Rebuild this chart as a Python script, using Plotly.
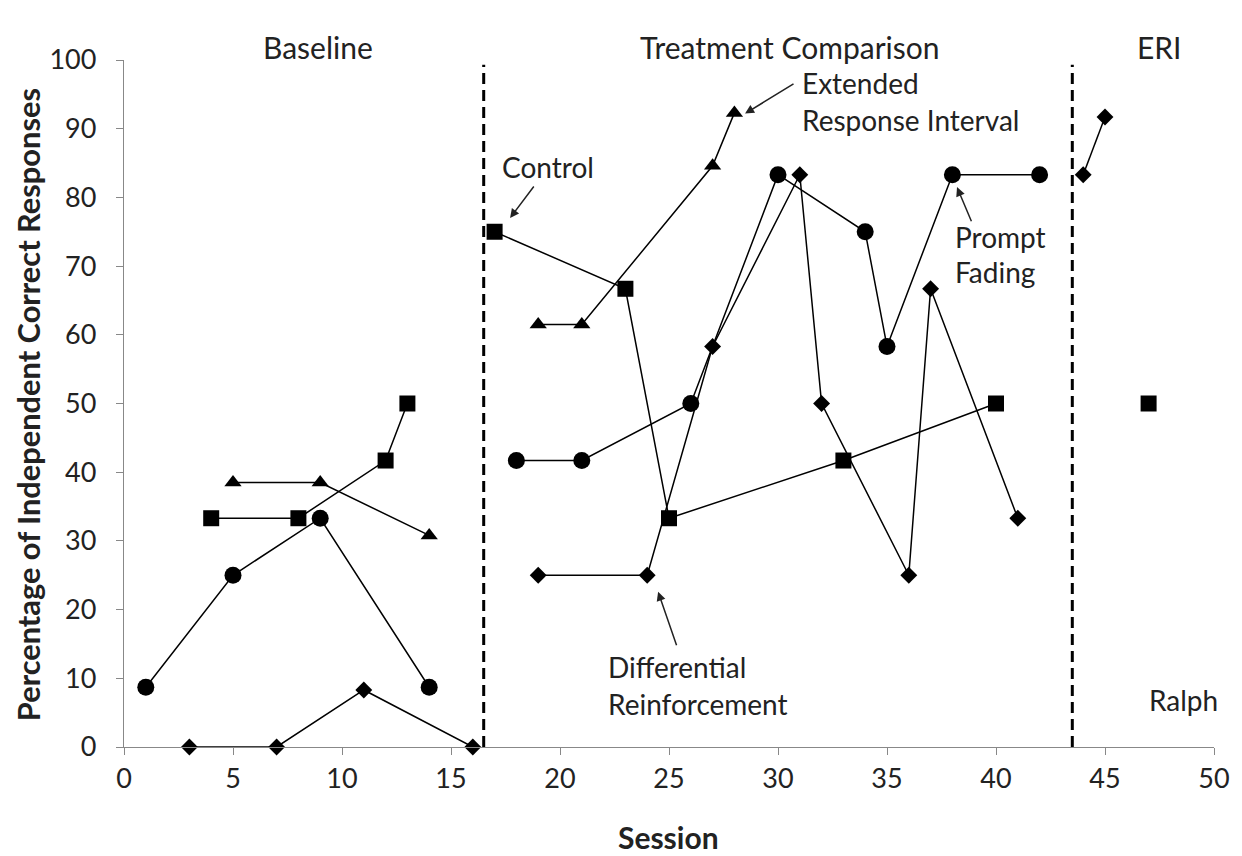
import plotly.graph_objects as go

# ---------------- data ----------------
# Control (squares)
control_x_base = [4, 8, 12, 13]
control_y_base = [33.3, 33.3, 41.7, 50]
control_x_treat = [17, 23, 25, 33, 40]
control_y_treat = [75, 66.7, 33.3, 41.7, 50]
control_x_eri = [47]
control_y_eri = [50]

# Prompt Fading (circles)
prompt_x_base = [1, 5, 9, 14]
prompt_y_base = [8.7, 25, 33.3, 8.7]
prompt_x_treat = [18, 21, 26, 30, 34, 35, 38, 42]
prompt_y_treat = [41.7, 41.7, 50, 83.3, 75, 58.3, 83.3, 83.3]

# Differential Reinforcement (diamonds)
diff_x_base = [3, 7, 11, 16]
diff_y_base = [0, 0, 8.3, 0]
diff_x_treat = [19, 24, 27, 31, 32, 36, 37, 41]
diff_y_treat = [25, 25, 58.3, 83.3, 50, 25, 66.7, 33.3]
diff_x_eri = [44, 45]
diff_y_eri = [83.3, 91.7]

# Extended Response Interval (triangles)
eri_x_base = [5, 9, 14]
eri_y_base = [38.5, 38.5, 30.8]
eri_x_treat = [19, 21, 27, 28]
eri_y_treat = [61.5, 61.5, 84.6, 92.3]

phase_change_x = [16.5, 43.5]
phase_labels = ["Baseline", "Treatment Comparison", "ERI"]
phase_label_x = [8.9, 30.55, 47.5]

x_ticks = [0, 5, 10, 15, 20, 25, 30, 35, 40, 45, 50]
y_ticks = [0, 10, 20, 30, 40, 50, 60, 70, 80, 90, 100]

FONT = "Lato"
BLACK = "#000000"
TXT = "#222222"

fig = go.Figure()

def add_series(xs, ys, symbol, size):
    fig.add_trace(go.Scatter(
        x=xs, y=ys, mode="lines+markers",
        line=dict(color=BLACK, width=1.5),
        marker=dict(symbol=symbol, size=size, color=BLACK),
        cliponaxis=False, showlegend=False, hoverinfo="x+y"))

add_series(control_x_base, control_y_base, "square", 16)
add_series(control_x_treat, control_y_treat, "square", 16)
add_series(control_x_eri, control_y_eri, "square", 16)
add_series(prompt_x_base, prompt_y_base, "circle", 17)
add_series(prompt_x_treat, prompt_y_treat, "circle", 17)
add_series(diff_x_base, diff_y_base, "diamond", 13)
add_series(diff_x_treat, diff_y_treat, "diamond", 13)
add_series(diff_x_eri, diff_y_eri, "diamond", 13)
add_series(eri_x_base, eri_y_base, "triangle-up", 15)
add_series(eri_x_treat, eri_y_treat, "triangle-up", 15)

for xv in phase_change_x:
    fig.add_shape(type="line", x0=xv, x1=xv, y0=0, y1=99.3, xref="x", yref="y",
                  line=dict(color=BLACK, width=3, dash="11px,6px"))

annotations = []
for lab, xv in zip(phase_labels, phase_label_x):
    annotations.append(dict(text=lab, x=xv, y=1.048, xref="x", yref="paper",
                            showarrow=False, font=dict(family=FONT, size=30, color=TXT)))

def txt(t, x, y, anchor="center"):
    annotations.append(dict(text=t, x=x, y=y, xref="x", yref="y", showarrow=False,
                            xanchor=anchor, yanchor="middle",
                            font=dict(family=FONT, size=28, color=TXT)))

def arrow(hx, hy, tx, ty):
    annotations.append(dict(text="", x=hx, y=hy, ax=tx, ay=ty, xref="x", yref="y",
                            axref="x", ayref="y", showarrow=True, arrowhead=2,
                            arrowsize=1.2, arrowwidth=1.5, arrowcolor=TXT))

txt("Control", 19.45, 84.4)
arrow(17.71, 77.0, 18.85, 81.8)
txt("Extended", 31.0, 96.7, "left")
txt("Response Interval", 31.0, 91.2, "left")
arrow(28.49, 92.2, 30.78, 96.65)
txt("Prompt", 38.03, 74.3, "left")
txt("Fading", 38.03, 69.2, "left")
arrow(38.21, 81.5, 38.9, 76.3)
txt("Differential", 22.1, 11.6, "left")
txt("Reinforcement", 22.1, 6.2, "left")
arrow(24.5, 22.6, 25.37, 14.6)
txt("Ralph", 48.58, 6.9)

# axis titles
annotations.append(dict(text="<b>Session</b>", x=0.4998, y=-0.131, xref="paper", yref="paper",
                        showarrow=False, xanchor="center", yanchor="middle",
                        font=dict(family=FONT, size=30, color=TXT)))
annotations.append(dict(text="<b>Percentage of Independent Correct Responses</b>",
                        x=-0.0881, y=0.499, xref="paper", yref="paper", textangle=-90,
                        showarrow=False, xanchor="center", yanchor="middle",
                        font=dict(family=FONT, size=30.8, color=TXT)))

fig.update_layout(
    width=1242, height=856,
    margin=dict(l=124, r=28, t=60, b=109),
    paper_bgcolor="white", plot_bgcolor="white",
    font=dict(family=FONT, color=TXT),
    annotations=annotations,
    xaxis=dict(range=[0, 50], tickvals=x_ticks, ticks="outside", ticklen=7,
               tickcolor="#888", showline=True, linecolor="#888", linewidth=1.3,
               showgrid=False, zeroline=False,
               tickfont=dict(family=FONT, size=27, color=TXT)),
    yaxis=dict(range=[0, 100], tickvals=y_ticks, ticks="outside", ticklen=7,
               tickcolor="#888", showline=True, linecolor="#888", linewidth=1.3,
               showgrid=False, zeroline=False, ticklabelstandoff=14,
               tickfont=dict(family=FONT, size=27, color=TXT)),
)

fig.write_html(
    "out.html",
    config={"displayModeBar": False},
    post_script="document.body.style.margin='0';document.body.style.padding='0';"
                "document.body.style.overflow='hidden';"
                "document.documentElement.style.overflow='hidden';",
)
